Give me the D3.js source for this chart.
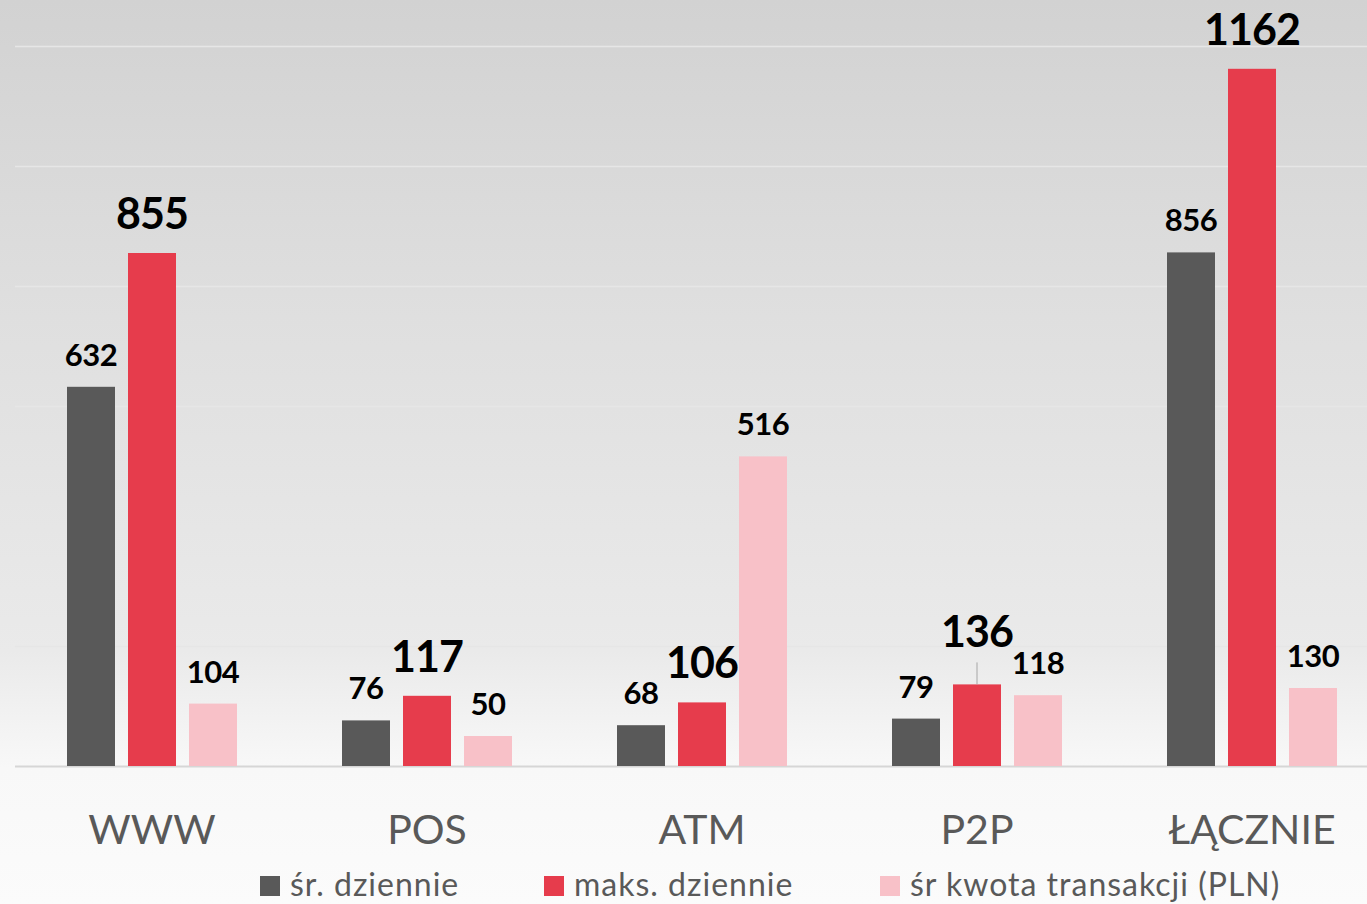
<!DOCTYPE html>
<html><head><meta charset="utf-8">
<script src="https://cdn.jsdelivr.net/npm/d3@7"></script>
<style>html,body{margin:0;padding:0;overflow:hidden;background:#fff}</style>
</head><body>
<svg id="chart" width="1367" height="904"></svg>
<script>
const categories = ["WWW", "POS", "ATM", "P2P", "ŁĄCZNIE"];
const seriesNames = ["śr. dziennie", "maks. dziennie", "śr kwota transakcji (PLN)"];
const avgDaily = [632, 76, 68, 79, 856];
const maxDaily = [855, 117, 106, 136, 1162];
const avgAmount = [104, 50, 516, 118, 130];
const gridTicks = [0, 200, 400, 600, 800, 1000, 1200];
const colors = ["#595959", "#E63C4C", "#F8C1C8"];

const seriesValues = [avgDaily, maxDaily, avgAmount];
const svg = d3.select("#chart");
const W = 1367, H = 904;

const defs = svg.append("defs");
const grad = defs.append("linearGradient").attr("id", "bg").attr("x1", 0).attr("y1", 0).attr("x2", 0).attr("y2", 1);
grad.append("stop").attr("offset", "0%").attr("stop-color", "#d2d2d2");
grad.append("stop").attr("offset", "35%").attr("stop-color", "#dfdfdf");
grad.append("stop").attr("offset", "72%").attr("stop-color", "#eaeaea");
grad.append("stop").attr("offset", "85%").attr("stop-color", "#f8f8f8");
grad.append("stop").attr("offset", "100%").attr("stop-color", "#fbfbfb");
svg.append("rect").attr("width", W).attr("height", H).attr("fill", "url(#bg)");

const x = d3.scaleBand().domain(categories).range([14.5, 1389.5]).paddingInner(0).paddingOuter(0);
const xs = d3.scaleBand().domain(d3.range(3)).range([0, 170]).paddingInner(13 / 61).paddingOuter(0);
const y = d3.scaleLinear().domain([0, 1200]).range([766, 46]);

// gridlines
svg.append("g").selectAll("line").data(gridTicks).join("line")
  .attr("x1", 15).attr("x2", W)
  .attr("y1", d => Math.round(y(d)) + 0.5).attr("y2", d => Math.round(y(d)) + 0.5)
  .attr("stroke", d => d === 0 ? "#d6d6d6" : "#e6e6e6").attr("stroke-width", d => d === 0 ? 2 : 1.5);

const groups = svg.append("g").selectAll("g").data(categories).join("g")
  .attr("transform", c => `translate(${x(c) + x.bandwidth() / 2 - 85},0)`);

const labelOffset = { "P2P-1": 13 };

groups.each(function(c, ci) {
  const g = d3.select(this);
  seriesValues.forEach((vals, si) => {
    const v = vals[ci];
    const bx = xs(si), bw = xs.bandwidth();
    g.append("rect").attr("x", bx).attr("y", y(v)).attr("width", bw).attr("height", y(0) - y(v)).attr("fill", colors[si]);
    const off = labelOffset[c + "-" + si] || 0;
    const big = si === 1;
    if (off) {
      g.append("line").attr("x1", bx + bw / 2).attr("x2", bx + bw / 2)
        .attr("y1", y(v)).attr("y2", y(v) - 22).attr("stroke", "#a6a6a6").attr("stroke-width", 1);
    }
    g.append("text").attr("x", bx + bw / 2).attr("y", y(v) - (big ? 24 : 21) - off)
      .attr("text-anchor", "middle").attr("font-family", "Lato, 'Open Sans', sans-serif")
      .attr("font-weight", "bold").attr("font-size", big ? 43 : 31).attr("fill", "#000")
      .attr("letter-spacing", big ? -1 : -0.5)
      .text(v);
  });
});

// category axis
const xAxis = d3.axisBottom(x).tickSize(0).tickPadding(0);
const ax = svg.append("g").attr("transform", "translate(0,766)").call(xAxis);
ax.select(".domain").remove();
ax.selectAll("text").attr("y", 78).attr("dy", 0)
  .attr("font-family", "Lato, 'Open Sans', sans-serif").attr("font-size", 41).attr("fill", "#595959");

// legend
const legendX = [260, 544, 880];
const lg = svg.append("g").selectAll("g").data(seriesNames).join("g")
  .attr("transform", (d, i) => `translate(${legendX[i]},876)`);
lg.append("rect").attr("width", 20).attr("height", 20).attr("fill", (d, i) => colors[i]);
lg.append("text").attr("x", 30).attr("y", 20).attr("font-family", "Lato, 'Open Sans', sans-serif")
  .attr("font-size", 32).attr("letter-spacing", 1).attr("fill", "#595959").text(d => d);
</script>
</body></html>
